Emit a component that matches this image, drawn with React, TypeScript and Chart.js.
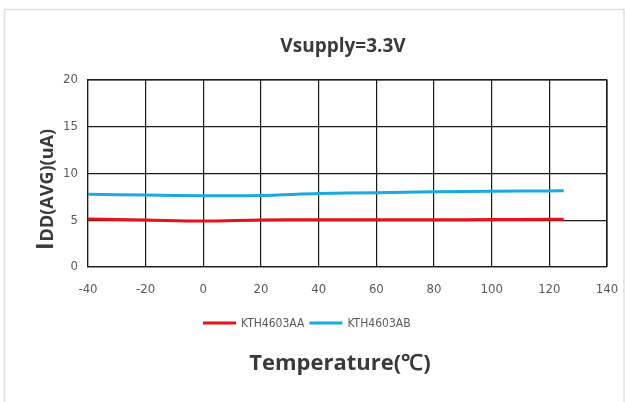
import React, { useEffect, useRef } from "react";
import { Chart, registerables } from "chart.js";

Chart.register(...registerables);

const temperatures = [-40, -20, 0, 20, 40, 60, 80, 100, 120, 125];
const seriesAA = [5.13, 5.02, 4.91, 5.02, 5.05, 5.06, 5.06, 5.07, 5.1, 5.1];
const seriesAB = [7.78, 7.7, 7.63, 7.65, 7.85, 7.95, 8.04, 8.1, 8.14, 8.15];
const seriesNames = ["KTH4603AA", "KTH4603AB"];
const seriesColors = ["#e3121b", "#1aa9e0"];
const titleText = "Vsupply=3.3V";
const xTitleText = "Temperature(℃)";

const NARROW = "'Liberation Sans Narrow', 'DejaVu Sans Condensed', 'Open Sans', Arial, sans-serif";
const BOLD = "'Open Sans', 'Liberation Sans', sans-serif";

const decorPlugin = {
  id: "decor",
  afterDraw(chart: any) {
    const ctx = chart.ctx;
    const w = chart.width;
    ctx.save();
    // outer light frame
    ctx.strokeStyle = "#e0e0e0";
    ctx.lineWidth = 1.5;
    ctx.beginPath();
    ctx.moveTo(4.5, 420);
    ctx.lineTo(4.5, 9.5);
    ctx.lineTo(w - 1, 9.5);
    ctx.lineTo(w - 1, 420);
    ctx.stroke();

    // title
    ctx.fillStyle = "#3a3a3a";
    ctx.textAlign = "center";
    ctx.textBaseline = "middle";
    ctx.font = `bold 19px ${BOLD}`;
    ctx.fillText(titleText, 343, 47);

    // y-axis title (rotated, first I bigger)
    ctx.save();
    ctx.translate(45, 190);
    ctx.rotate(-Math.PI / 2);
    ctx.textBaseline = "alphabetic";
    ctx.textAlign = "left";
    const bigI = "I";
    const rest = "DD(AVG)(uA)";
    ctx.font = `bold 23px ${BOLD}`;
    const wI = ctx.measureText(bigI).width;
    ctx.font = `bold 18px ${BOLD}`;
    const wR = ctx.measureText(rest).width;
    const start = -(wI + wR) / 2;
    ctx.font = `bold 23px ${BOLD}`;
    ctx.fillText(bigI, start, 8);
    ctx.font = `bold 18px ${BOLD}`;
    ctx.fillText(rest, start + wI + 1, 8);
    ctx.restore();

    // legend
    ctx.font = `12px ${NARROW}`;
    ctx.textBaseline = "middle";
    ctx.textAlign = "left";
    const ly = 323;
    let lx = 203;
    chart.data.datasets.forEach((ds: any) => {
      ctx.strokeStyle = ds.borderColor;
      ctx.lineWidth = 3;
      ctx.beginPath();
      ctx.moveTo(lx, ly);
      ctx.lineTo(lx + 33, ly);
      ctx.stroke();
      ctx.fillStyle = "#595959";
      ctx.fillText(ds.label, lx + 38, ly + 1);
      lx += 38 + ctx.measureText(ds.label).width + 5;
    });

    // x-axis title
    ctx.fillStyle = "#3a3a3a";
    ctx.textAlign = "center";
    ctx.font = `bold 22px ${BOLD}`;
    ctx.fillText(xTitleText, 340, 364);
    ctx.restore();
  },
};

export default function App() {
  const canvasRef = useRef<HTMLCanvasElement>(null);

  useEffect(() => {
    const canvas = canvasRef.current!;
    const chart = new Chart(canvas, {
      type: "line",
      data: {
        datasets: [
          {
            label: seriesNames[0],
            data: temperatures.map((t, i) => ({ x: t, y: seriesAA[i] })),
            borderColor: seriesColors[0],
            backgroundColor: seriesColors[0],
            borderWidth: 3,
            pointRadius: 0,
            tension: 0.35,
          },
          {
            label: seriesNames[1],
            data: temperatures.map((t, i) => ({ x: t, y: seriesAB[i] })),
            borderColor: seriesColors[1],
            backgroundColor: seriesColors[1],
            borderWidth: 3,
            pointRadius: 0,
            tension: 0.35,
          },
        ],
      },
      options: {
        animation: false,
        responsive: false,
        devicePixelRatio: 1,
        layout: { padding: { top: 80, right: 18, bottom: 105, left: 0 } },
        plugins: {
          legend: { display: false },
          tooltip: { enabled: false },
          title: { display: false },
        },
        scales: {
          x: {
            type: "linear",
            min: -40,
            max: 140,
            afterFit: (s: any) => {
              s.height = 30;
              s.paddingRight = 0;
              s.paddingLeft = 0;
            },
            ticks: {
              stepSize: 20,
              color: "#595959",
              font: { family: NARROW, size: 13 },
              padding: 15,
              maxRotation: 0,
              autoSkip: false,
            },
            grid: { color: "#1a1a1a", lineWidth: 1.2, drawTicks: false },
            border: { color: "#1a1a1a", width: 1.2 },
          },
          y: {
            min: 0,
            max: 20,
            afterFit: (s: any) => {
              s.width = 88;
              s.paddingTop = 0;
              s.paddingBottom = 0;
            },
            ticks: {
              stepSize: 5,
              color: "#595959",
              font: { family: NARROW, size: 13 },
              padding: 10,
            },
            grid: { color: "#1a1a1a", lineWidth: 1.2, drawTicks: false },
            border: { color: "#1a1a1a", width: 1.2 },
          },
        },
      },
      plugins: [
        decorPlugin,
        {
          id: "rightTopBorder",
          afterDatasetsDraw(c: any) {
            const a = c.chartArea;
            const ctx = c.ctx;
            ctx.save();
            ctx.strokeStyle = "#1a1a1a";
            ctx.lineWidth = 1.2;
            ctx.beginPath();
            ctx.moveTo(a.left, a.top);
            ctx.lineTo(a.right, a.top);
            ctx.lineTo(a.right, a.bottom);
            ctx.stroke();
            ctx.restore();
          },
        },
      ],
    } as any);
    return () => chart.destroy();
  }, []);

  return (
    <div style={{ position: "fixed", left: 0, top: 0, width: 625, height: 402, background: "#fff" }}>
      <canvas ref={canvasRef} width={625} height={402} style={{ display: "block" }} />
    </div>
  );
}
